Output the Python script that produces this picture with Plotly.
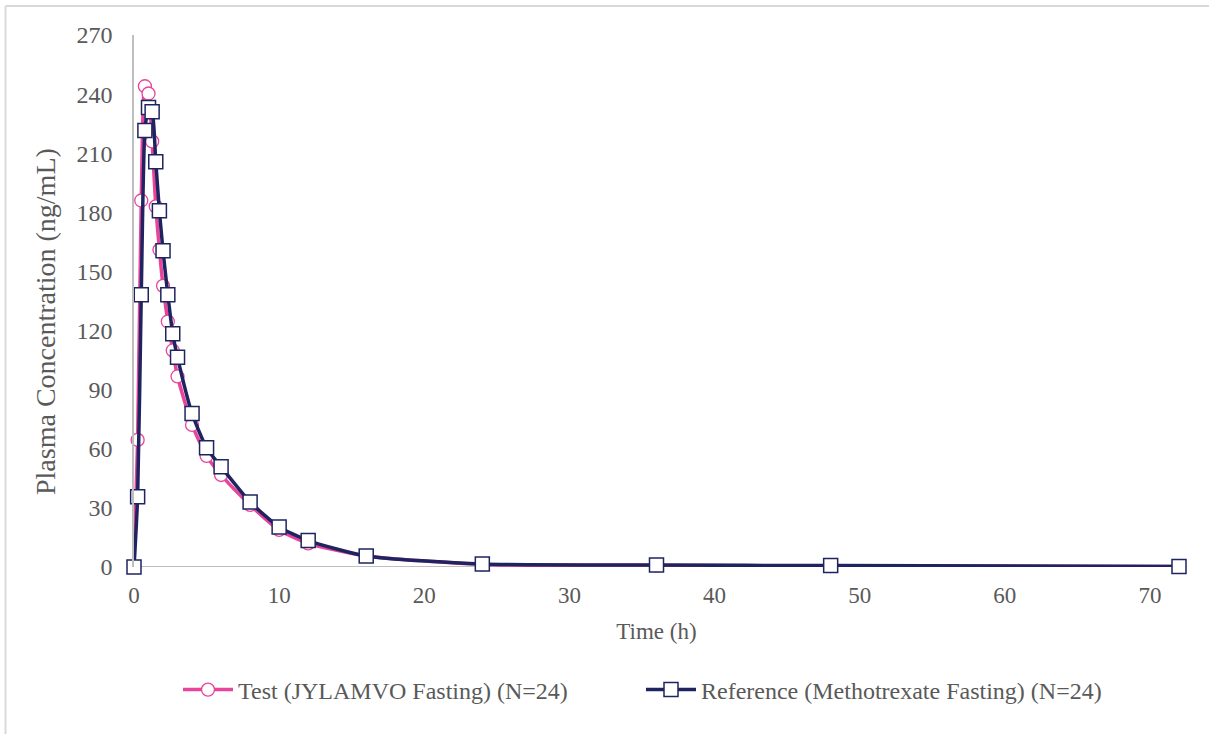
import plotly.graph_objects as go

# Data
time_h = [0, 0.25, 0.5, 0.75, 1, 1.25, 1.5, 1.75, 2, 2.33, 2.67, 3, 4, 5, 6, 8, 10, 12, 16, 24, 36, 48, 72]
test_conc = [0, 64.5, 186, 244, 240.3, 216, 183, 161, 142.7, 124.6, 109.9, 96.7, 72.1, 56.4, 46.7, 31.5, 18.8, 12.0, 5.6, 1.3, 0.8, 0.5, 0.2]
ref_conc = [0, 35.7, 138.2, 221.5, 233.2, 231.1, 205.7, 180.8, 160.5, 138.2, 118.4, 106.4, 77.9, 60.5, 50.9, 33.0, 20.3, 13.4, 5.6, 1.5, 1.0, 0.7, 0.3]
test_name = "Test (JYLAMVO Fasting) (N=24)"
ref_name = "Reference (Methotrexate Fasting) (N=24)"
x_title = "Time (h)"
y_title = "Plasma Concentration (ng/mL)"
x_ticks = [0, 10, 20, 30, 40, 50, 60, 70]
y_ticks = [0, 30, 60, 90, 120, 150, 180, 210, 240, 270]

PINK = "#E8449B"
NAVY = "#1F2461"
FONT = "Liberation Serif"
GRAY = "#595959"

fig = go.Figure()
fig.add_trace(go.Scatter(
    x=time_h, y=test_conc, name=test_name, mode="lines+markers", cliponaxis=False,
    line=dict(color=PINK, width=3.5, shape="spline", smoothing=0.6),
    marker=dict(symbol="circle", size=13, color="white", line=dict(color=PINK, width=1.3)),
))
fig.add_trace(go.Scatter(
    x=time_h, y=ref_conc, name=ref_name, mode="lines+markers", cliponaxis=False,
    line=dict(color=NAVY, width=3.5, shape="spline", smoothing=0.6),
    marker=dict(symbol="square", size=14, color="white", line=dict(color=NAVY, width=1.5)),
))

W, H = 1209, 734
L, R, T, B = 134, 30, 35, 167
pw = W - L - R
ph = H - T - B

def px(xp):
    return (xp - L) / pw

def py(yp):
    return (H - B - yp) / ph

fig.update_layout(
    width=W, height=H,
    margin=dict(l=L, r=R, t=T, b=B, autoexpand=False),
    paper_bgcolor="white", plot_bgcolor="white",
    font=dict(family=FONT, color=GRAY, size=23),
    showlegend=True,
    legend=dict(orientation="h", x=px(178), xanchor="left", y=py(690), yanchor="middle",
                font=dict(family=FONT, size=24, color=GRAY), itemwidth=50,
                entrywidth=398, entrywidthmode="pixels", tracegroupgap=0),
    xaxis=dict(range=[0, 72], tickvals=x_ticks, showgrid=False, zeroline=False,
               showline=False, ticks="", tickfont=dict(size=23, color=GRAY),
               ticklabelstandoff=12,
               title=dict(text=x_title, font=dict(size=23, color=GRAY), standoff=15)),
    yaxis=dict(range=[0, 270], tickvals=y_ticks, showgrid=False, zeroline=False,
               showline=True, linecolor="#BFBFBF", linewidth=1.5, ticks="",
               tickfont=dict(size=24, color=GRAY), ticklabelstandoff=15),
    annotations=[
        dict(text=y_title, textangle=-90, xref="paper", yref="paper",
             x=px(45), y=py(322), xanchor="center", yanchor="middle", showarrow=False,
             font=dict(family=FONT, size=28, color=GRAY)),
    ],
    shapes=[
        dict(type="line", xref="paper", yref="y", x0=0, x1=1, y0=0, y1=0,
             line=dict(color="#BFBFBF", width=2), layer="below"),
        dict(type="line", xref="paper", yref="paper", x0=px(5.5), x1=px(5.5), y0=py(6), y1=py(734),
             line=dict(color="#D9D9D9", width=2)),
        dict(type="line", xref="paper", yref="paper", x0=px(5.5), x1=px(1209), y0=py(6), y1=py(6),
             line=dict(color="#D9D9D9", width=2)),
    ],
)

fig.write_html("out.html", config={"displayModeBar": False},
               post_script="document.body.style.margin='0px';document.body.style.overflow='hidden';")
